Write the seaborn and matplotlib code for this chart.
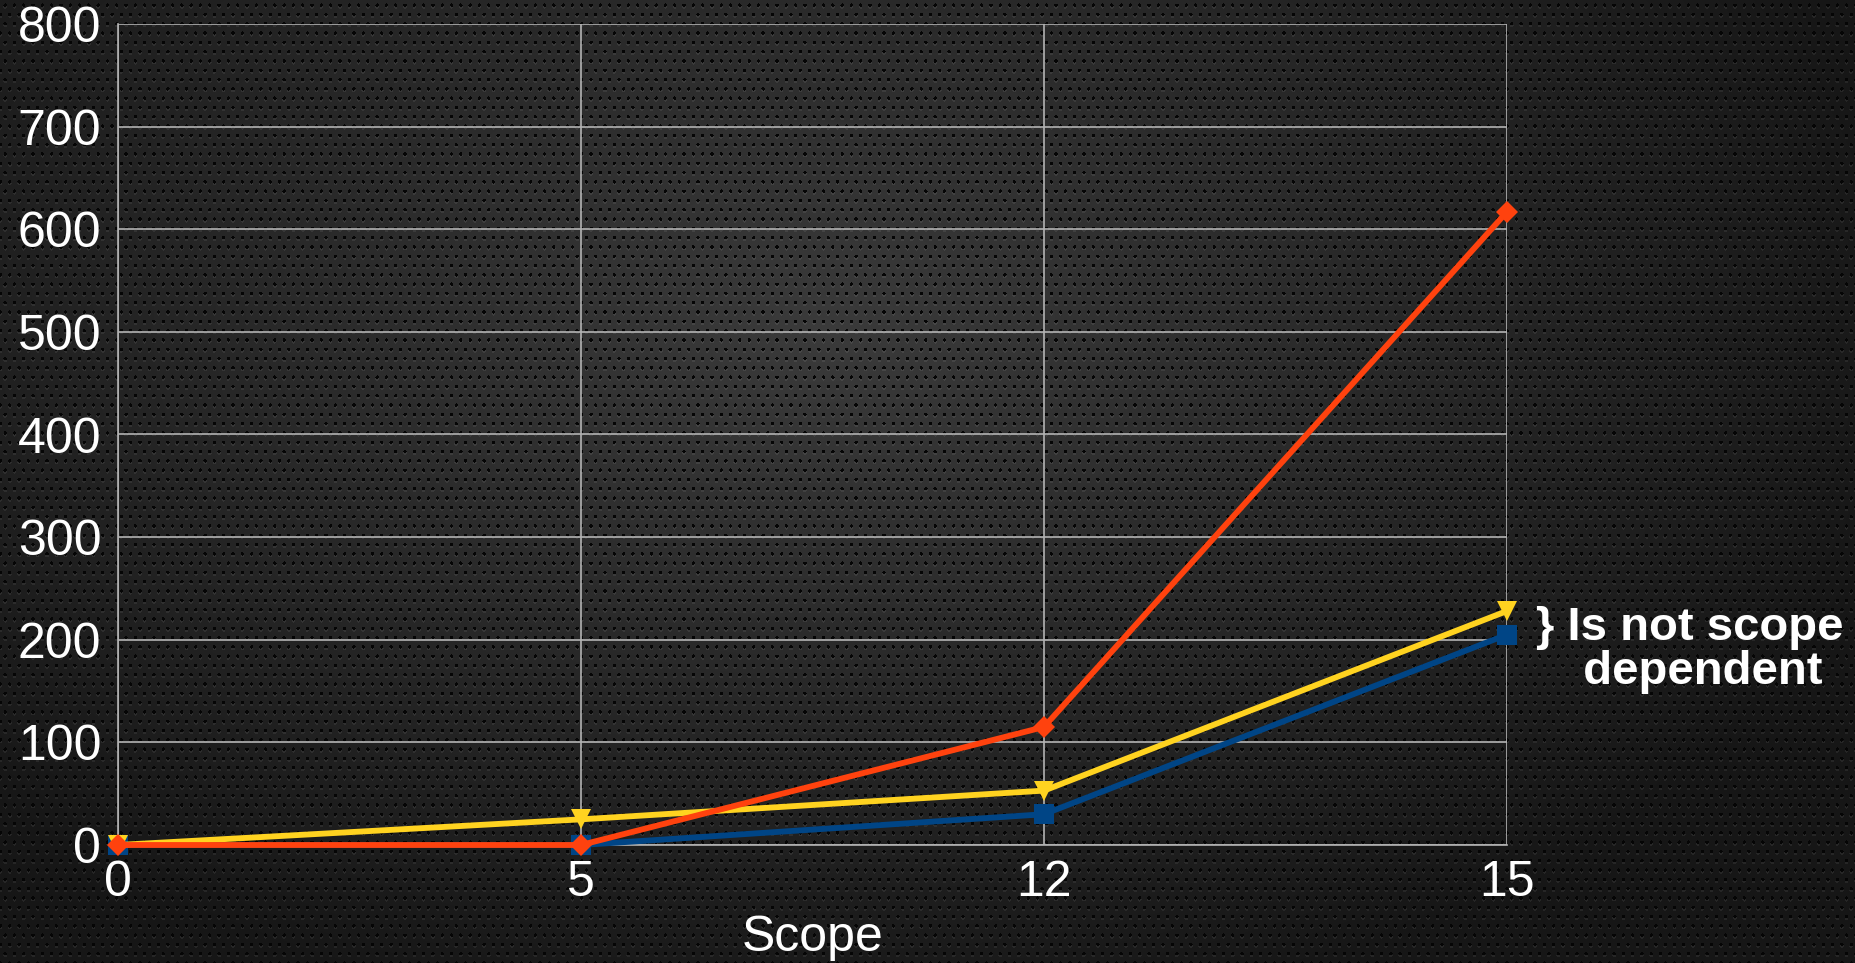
import numpy as np
import pandas as pd
import matplotlib
matplotlib.use("Agg")
import matplotlib.pyplot as plt
import seaborn as sns

# --- data ---
scope_labels = ["0", "5", "12", "15"]
blue_values = [0, 0, 30, 205]
yellow_values = [0, 25, 53, 228]
red_values = [0, 0, 115, 617]
y_ticks = [0, 100, 200, 300, 400, 500, 600, 700, 800]

series_names = ["blue", "yellow", "red"]
colors = {"blue": "#004586", "yellow": "#ffd320", "red": "#ff420e"}
markers = {"blue": "s", "yellow": "v", "red": "D"}

rows = []
for name, vals in zip(series_names, [blue_values, yellow_values, red_values]):
    for i, v in enumerate(vals):
        rows.append({"pos": i, "value": v, "series": name})
df = pd.DataFrame(rows)

W, H, DPI = 1855, 963, 100

sns.set_style("dark")
plt.rcParams["font.family"] = ["Liberation Sans", "DejaVu Sans"]

# dark perforated background with a soft radial glow
yy, xx = np.mgrid[0:H, 0:W]
r = np.sqrt(((xx - 820) / 1100.0) ** 2 + ((yy - 330) / 700.0) ** 2)
base = 0.23 - 0.14 * np.clip(r, 0, 1)
step = 9.3
row = np.floor(yy / step)
ox = (xx + (row % 2) * step / 2) % step - step / 2
oy = yy % step - step / 2
d = np.sqrt(ox ** 2 + oy ** 2)
hl = np.sqrt(ox ** 2 + (oy - 1.8) ** 2)
bg = base.copy()
bg = np.where(hl < 1.8, bg + 0.06, bg)
bg = np.where(d < 1.7, 0.02, bg)
bg = np.clip(bg, 0, 1)
bg_rgb = np.dstack([bg, bg, bg])

fig = plt.figure(figsize=(W / DPI, H / DPI), dpi=DPI)
fig.figimage(bg_rgb, 0, 0, zorder=-10, origin="upper")

ax = fig.add_axes([118 / W, 1 - 845 / H, (1507 - 118) / W, (845 - 24) / H])
ax.set_zorder(1)
ax.set_facecolor("none")

sns.lineplot(data=df, x="pos", y="value", hue="series", style="series",
             hue_order=series_names, style_order=series_names,
             palette=colors, markers=markers, dashes=False,
             linewidth=4.2, markersize=14, markeredgewidth=0,
             legend=False, ax=ax, clip_on=False, zorder=3)
for ln in ax.lines:
    if ln.get_marker() == "D":
        ln.set_markersize(11)

ax.set_xlim(0, 3)
ax.set_ylim(0, 800)
ax.set_xticks(range(len(scope_labels)))
ax.set_xticklabels(scope_labels)
ax.set_yticks(y_ticks)

grid_c = "#b3b3b3"
ax.grid(True, color=grid_c, linewidth=1.2)
for side in ["top", "right"]:
    ax.spines[side].set_visible(False)
for side in ["left", "bottom"]:
    ax.spines[side].set_color(grid_c)
    ax.spines[side].set_linewidth(1.2)

ax.tick_params(axis="both", colors="white", labelsize=36, length=11,
               width=1.2, color=grid_c, pad=1)
ax.tick_params(axis="x", pad=0)
ax.set_xlabel("Scope", color="white", fontsize=36, labelpad=6)
ax.set_ylabel("")

fig.text(1690 / W, 1 - 650 / H, "} Is not scope\n  dependent", color="white",
         fontsize=34, fontweight="bold", ha="center", va="center",
         linespacing=1.0, zorder=5)

fig.savefig("out.png", dpi=DPI)
